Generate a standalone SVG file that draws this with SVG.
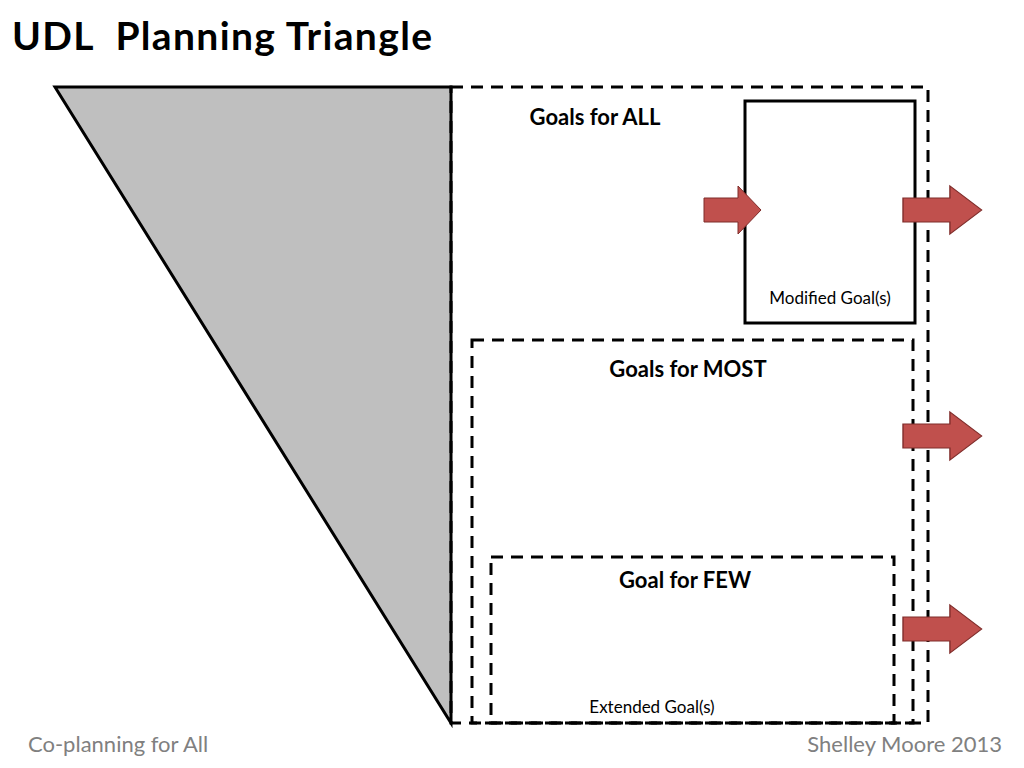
<svg xmlns="http://www.w3.org/2000/svg" width="1024" height="768" viewBox="0 0 1024 768">
<style>
text{font-family:Lato,"Open Sans","Liberation Sans",sans-serif;fill:#000}
.d{fill:none;stroke:#000;stroke-width:3;stroke-dasharray:12,8}
.b{font-weight:bold;font-size:22px}
.s{font-size:17px}
.f{font-size:22px;fill:#808080}
.ar{fill:#c0504d;stroke:#7f2c2a;stroke-width:1}
</style>
<defs>
<path id="arr" d="M0,-12 H34 V-24 L57,0 L34,24 V12 H0 Z"/>
</defs>
<rect width="1024" height="768" fill="#fff"/>
<text x="12" y="50" xml:space="preserve" style="font-weight:bold;font-size:39px" textLength="420">UDL  Planning Triangle</text>
<g id="triangle"><path d="M55,87 L451,87 L451,723 Z" fill="#bfbfbf" stroke="#000" stroke-width="3"/></g>
<g id="all"><rect class="d" x="451" y="87" width="477" height="636"/><text class="b" x="595" y="125" text-anchor="middle">Goals for ALL</text></g>
<g id="modified"><rect x="745" y="101" width="170" height="222" fill="none" stroke="#000" stroke-width="3"/><text class="s" x="830" y="304" text-anchor="middle">Modified Goal(s)</text></g>
<g id="most"><rect class="d" x="472" y="340" width="441" height="383"/><text class="b" x="688" y="377" text-anchor="middle">Goals for MOST</text></g>
<g id="few"><rect class="d" x="491" y="557" width="403" height="166"/><text class="b" x="685" y="588" text-anchor="middle">Goal for FEW</text><text class="s" x="652" y="713" text-anchor="middle">Extended Goal(s)</text></g>
<g id="connectors">
<use href="#arr" class="ar" x="704" y="210"/>
<use href="#arr" class="ar" transform="translate(903,210) scale(1.38,1)"/>
<use href="#arr" class="ar" transform="translate(903,436) scale(1.38,1)"/>
<use href="#arr" class="ar" transform="translate(903,629) scale(1.38,1)"/>
</g>
<text class="f" x="28" y="752">Co-planning for All</text>
<text class="f" x="1002" y="752" text-anchor="end">Shelley Moore 2013</text>
</svg>
